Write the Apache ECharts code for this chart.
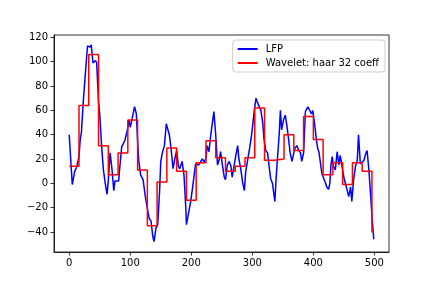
<!DOCTYPE html>
<html><head><meta charset="utf-8">
<script src="https://cdn.jsdelivr.net/npm/echarts@6/dist/echarts.min.js"></script>
<style>html,body{margin:0;padding:0;background:#fff}#c{width:432px;height:288px}</style>
</head><body><div id="c"></div>
<script>
const seriesNames = ['LFP', 'Wavelet: haar 32 coeff'];
const lfpX = [0,3,5,9,12,16,18,20,23,27,30,32,34,36,39,41,43,45,48,50,53,56,59,62,64,67,70,73,75,78,81,83,86,91,95,98,100,103,107,110,112,114,117,121,125,131,134,137,139,142,145,148,150,153,156,159,161,164,167,170,173,176,179,181,185,188,191,192,195,199,202,204,207,212,215,218,221,224,226,229,232,235,237,240,243,246,248,251,254,256,259,262,265,267,270,273,276,278,281,284,287,289,292,295,298,300,303,306,308,311,314,317,319,322,325,328,330,333,337,339,341,344,346,348,351,354,357,359,362,365,368,370,373,376,379,381,384,387,391,394,397,399,402,405,407,409,411,414,417,420,422,425,427,429,431,433,436,439,442,444,447,450,453,455,458,461,463,466,469,472,474,477,480,483,485,488,491,494,496,499];
const lfpY = [40,15,-1,10,13,22,36,42,67,94,113,114,112,114,99,100,101,99,67,57,31,11,0,-9,2,25,12,-6,2,1,2,14,30,35,43,52,46,53,63,57,35,18,7,3,-12,-29,-31,-44,-48,-37,-34,-7,18,26,31,49,50,40,28,12,20,27,14,12,18,7,-20,-34,-26,-15,-4,-3,16,15,16,20,18,20,31,26,40,41,59,40,15,20,26,15,5,3,15,18,14,5,14,23,31,20,12,1,-6,9,18,27,37,45,59,70,67,68,60,50,37,27,25,12,4,0,-15,4,19,40,60,44,52,56,46,38,25,18,25,29,31,27,25,18,25,59,63,64,57,60,49,36,29,26,19,8,4,0,-3,-5,0,16,22,14,11,26,15,23,14,5,-1,-5,-11,-3,-15,3,14,19,40,16,15,19,23,27,11,-11,-27,-46];
const waveletBlock = 16;
const waveletValues = [14,64,106,31,7,25,52,11,-35,1,29,10,-14,17,35,21,10,14,21,62,19,20,40,27,55,36,7,17,-1,17,10,-40];
const lastSample = 499;
const xTicks = [0,100,200,300,400,500];
const yTicks = [-40,-20,0,20,40,60,80,100,120];

const lfpData = lfpX.map((x, i) => [x, lfpY[i]]);
const waveData = waveletValues.map((v, i) => [i * waveletBlock, v]);
waveData.push([lastSample, waveletValues[waveletValues.length - 1]]);

const font = 'DejaVu Sans';
const fmt = v => String(v).replace('-', '\u2212');
const chart = echarts.init(document.getElementById('c'), null, {renderer: 'canvas'});
chart.setOption({
  animation: false,
  backgroundColor: '#fff',
  grid: {left: 54, right: 43, top: 35, bottom: 36, show: true, borderColor: '#000', borderWidth: 0.8, backgroundColor: 'transparent'},
  xAxis: {
    type: 'value', min: -24.95, max: 523.95,
    axisLine: {show: true, onZero: false, lineStyle: {color: '#000', width: 0.8}},
    axisTick: {show: true, length: 3.5, lineStyle: {color: '#000', width: 0.8}, customValues: xTicks},
    axisLabel: {customValues: xTicks, formatter: fmt, margin: 6, color: '#000', fontFamily: font, fontSize: 10},
    splitLine: {show: false}
  },
  yAxis: {
    type: 'value', min: -56.5, max: 122,
    axisLine: {show: true, onZero: false, lineStyle: {color: '#000', width: 0.8}},
    axisTick: {show: true, length: 3.5, lineStyle: {color: '#000', width: 0.8}, customValues: yTicks},
    axisLabel: {customValues: yTicks, formatter: fmt, margin: 6, color: '#000', fontFamily: font, fontSize: 10},
    splitLine: {show: false}
  },
  legend: {
    show: true, orient: 'vertical', right: 47, top: 40,
    data: seriesNames,
    icon: 'rect', itemWidth: 20, itemHeight: 2, itemGap: 4,
    padding: [4, 6, 4, 5],
    backgroundColor: 'rgba(255,255,255,0.8)', borderColor: '#cccccc', borderWidth: 1, borderRadius: 3,
    textStyle: {fontFamily: font, fontSize: 10, color: '#000', padding: [0, 0, 0, 3]}
  },
  series: [
    {name: seriesNames[0], type: 'line', data: lfpData, showSymbol: false, symbol: 'none', smooth: false,
     lineStyle: {color: '#0000ff', width: 1.5}, itemStyle: {color: '#0000ff'}},
    {name: seriesNames[1], type: 'line', data: waveData, step: 'end', showSymbol: false, symbol: 'none',
     lineStyle: {color: '#ff0000', width: 1.5}, itemStyle: {color: '#ff0000'}}
  ]
});
</script>
</body></html>
